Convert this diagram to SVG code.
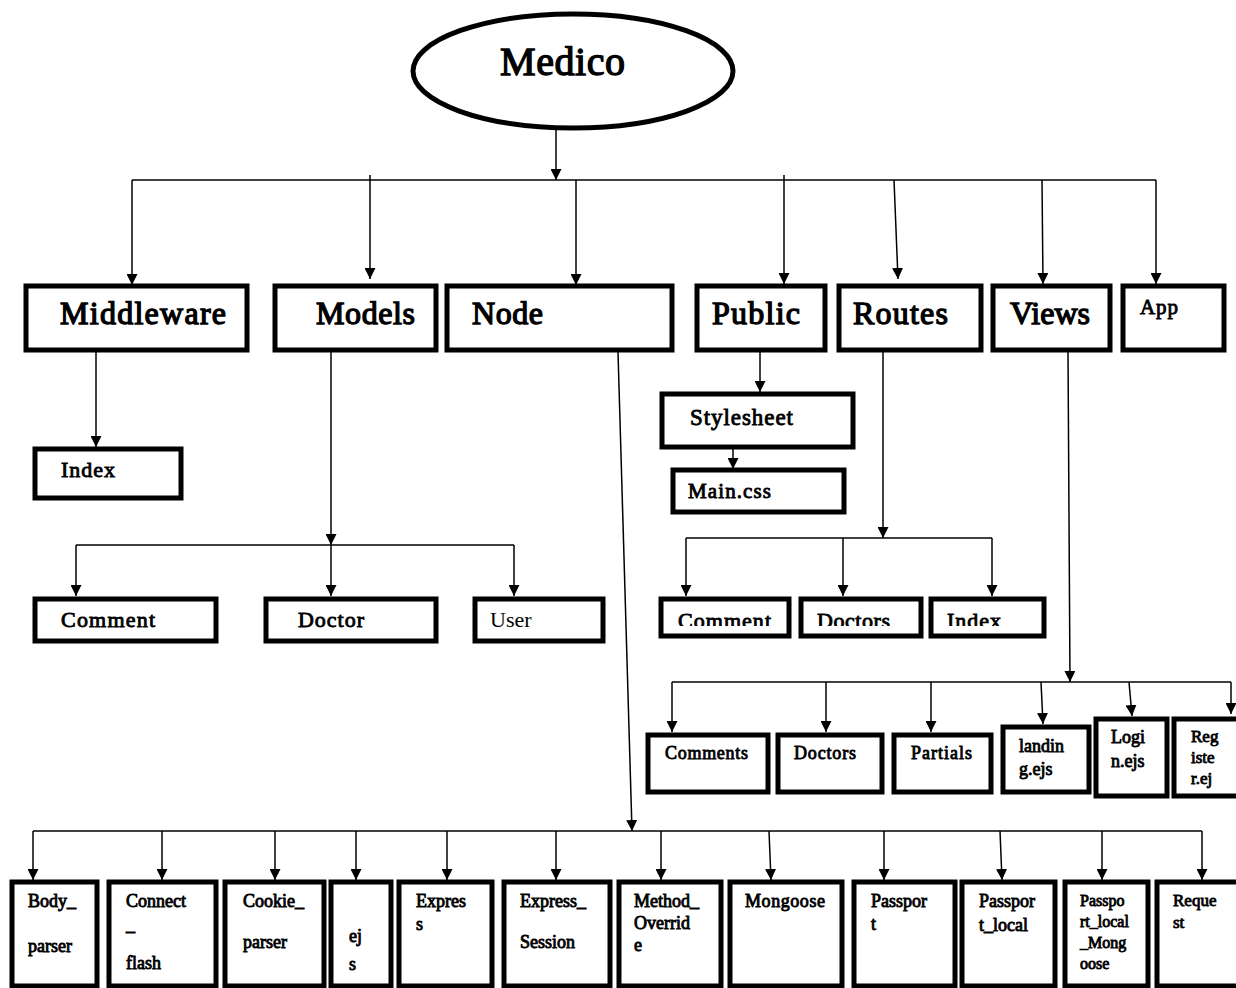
<svg xmlns="http://www.w3.org/2000/svg" width="1236" height="988" viewBox="0 0 1236 988" font-family="Liberation Serif, serif">
<style>
.b{fill:#fff;stroke:#000;stroke-width:5}
.t{fill:#000;stroke:#000;stroke-width:0.85}
.tl{fill:#000;stroke:#000;stroke-width:1.3}
.l{fill:none;stroke:#000;stroke-width:1.5}
.a{fill:none;stroke:#000;stroke-width:1.5;marker-end:url(#ah)}
</style>
<defs>
<marker id="ah" markerUnits="userSpaceOnUse" markerWidth="11" markerHeight="11" refX="10" refY="5" orient="auto" viewBox="0 0 10 10">
<path d="M0,0 L10,5 L0,10 z" fill="#000"/>
</marker>
<clipPath id="rc"><rect x="0" y="0" width="1236" height="626"/></clipPath>
</defs>
<rect width="1236" height="988" fill="#fff"/>

<g id="connectors">
<line class="a" x1="556" y1="130" x2="556" y2="180"/>
<line class="l" x1="132" y1="180" x2="1156" y2="180"/>
<line class="a" x1="132" y1="180" x2="132" y2="285"/>
<line class="a" x1="370" y1="175" x2="370" y2="279"/>
<line class="a" x1="576" y1="180" x2="576" y2="285"/>
<line class="a" x1="784" y1="175" x2="784" y2="284"/>
<line class="a" x1="894" y1="180" x2="898" y2="279"/>
<line class="a" x1="1042" y1="180" x2="1043" y2="284"/>
<line class="a" x1="1156" y1="180" x2="1156" y2="284"/>

<line class="a" x1="96" y1="352" x2="96" y2="447"/>

<line class="a" x1="331" y1="352" x2="331" y2="545"/>
<line class="l" x1="76" y1="545" x2="514" y2="545"/>
<line class="a" x1="76" y1="545" x2="76" y2="596"/>
<line class="a" x1="331" y1="545" x2="331" y2="596"/>
<line class="a" x1="514" y1="545" x2="514" y2="596"/>

<line class="a" x1="760" y1="352" x2="760" y2="392"/>
<line class="a" x1="733" y1="448" x2="733" y2="469"/>

<line class="a" x1="883" y1="352" x2="883" y2="538"/>
<line class="l" x1="686" y1="538" x2="992" y2="538"/>
<line class="a" x1="686" y1="538" x2="686" y2="596"/>
<line class="a" x1="843" y1="538" x2="843" y2="596"/>
<line class="a" x1="992" y1="538" x2="992" y2="596"/>

<line class="a" x1="1068" y1="352" x2="1070" y2="682"/>
<line class="l" x1="672" y1="682" x2="1231" y2="682"/>
<line class="a" x1="672" y1="682" x2="672" y2="732"/>
<line class="a" x1="826" y1="682" x2="826" y2="732"/>
<line class="a" x1="931" y1="682" x2="931" y2="732"/>
<line class="a" x1="1041" y1="682" x2="1043" y2="724"/>
<line class="a" x1="1129" y1="682" x2="1132" y2="716"/>
<line class="a" x1="1231" y1="682" x2="1231" y2="714"/>

<line class="a" x1="618" y1="352" x2="632" y2="831"/>
<line class="l" x1="33" y1="831" x2="1202" y2="831"/>
<line class="a" x1="33" y1="831" x2="33" y2="880"/>
<line class="a" x1="162" y1="831" x2="162" y2="880"/>
<line class="a" x1="275" y1="831" x2="275" y2="880"/>
<line class="a" x1="356" y1="831" x2="356" y2="880"/>
<line class="a" x1="447" y1="831" x2="447" y2="880"/>
<line class="a" x1="556" y1="831" x2="556" y2="880"/>
<line class="a" x1="661" y1="831" x2="661" y2="880"/>
<line class="a" x1="769" y1="831" x2="771" y2="880"/>
<line class="a" x1="884" y1="831" x2="884" y2="880"/>
<line class="a" x1="1000" y1="831" x2="1002" y2="880"/>
<line class="a" x1="1102" y1="831" x2="1102" y2="880"/>
<line class="a" x1="1202" y1="831" x2="1202" y2="880"/>
</g>

<g id="medico"><ellipse cx="573" cy="71" rx="160" ry="57" fill="#fff" stroke="#000" stroke-width="5"/><text class="tl" x="500" y="75" font-size="40" textLength="125">Medico</text></g>

<g id="middleware"><rect class="b" x="26" y="286" width="221" height="64"/><text class="tl" x="60" y="324" font-size="32" textLength="166">Middleware</text></g>
<g id="models"><rect class="b" x="275" y="286" width="161" height="64"/><text class="tl" x="316" y="324" font-size="32" textLength="99">Models</text></g>
<g id="node"><rect class="b" x="447" y="286" width="225" height="64"/><text class="tl" x="472" y="324" font-size="32" textLength="71">Node</text></g>
<g id="public"><rect class="b" x="697" y="286" width="128" height="64"/><text class="tl" x="712" y="324" font-size="32" textLength="88">Public</text></g>
<g id="routes"><rect class="b" x="839" y="286" width="142" height="64"/><text class="tl" x="853" y="324" font-size="32" textLength="95">Routes</text></g>
<g id="views"><rect class="b" x="993" y="286" width="117" height="64"/><text class="tl" x="1010" y="324" font-size="32" textLength="80">Views</text></g>
<g id="app"><rect class="b" x="1123" y="286" width="101" height="64"/><text class="t" x="1140" y="314" font-size="21" textLength="38">App</text></g>

<g id="mw-index"><rect class="b" x="35" y="449" width="146" height="49"/><text class="t" x="61" y="477" font-size="22" textLength="54">Index</text></g>

<g id="m-comment"><rect class="b" x="35" y="599" width="181" height="42"/><text class="t" x="61" y="627" font-size="22" textLength="94">Comment</text></g>
<g id="m-doctor"><rect class="b" x="266" y="599" width="170" height="42"/><text class="t" x="298" y="627" font-size="22" textLength="66">Doctor</text></g>
<g id="m-user"><rect class="b" x="475" y="599" width="128" height="42"/><text x="490" y="627" font-size="22" fill="#000">User</text></g>

<g id="stylesheet"><rect class="b" x="662" y="394" width="191" height="53"/><text class="t" x="690" y="425" font-size="23" textLength="103">Stylesheet</text></g>
<g id="maincss"><rect class="b" x="673" y="470" width="171" height="42"/><text class="t" x="688" y="498" font-size="21" textLength="83">Main.css</text></g>

<g id="r-comment"><rect class="b" x="661" y="599" width="128" height="37"/><text class="t" x="678" y="628" font-size="22" textLength="93" clip-path="url(#rc)">Comment</text></g>
<g id="r-doctors"><rect class="b" x="801" y="599" width="120" height="37"/><text class="t" x="817" y="628" font-size="22" textLength="73" clip-path="url(#rc)">Doctors</text></g>
<g id="r-index"><rect class="b" x="931" y="599" width="113" height="37"/><text class="t" x="947" y="628" font-size="22" textLength="54" clip-path="url(#rc)">Index</text></g>

<g id="v-comments"><rect class="b" x="648" y="735" width="120" height="57"/><text class="t" x="665" y="759" font-size="18" textLength="83">Comments</text></g>
<g id="v-doctors"><rect class="b" x="778" y="735" width="104" height="57"/><text class="t" x="794" y="759" font-size="18" textLength="62">Doctors</text></g>
<g id="v-partials"><rect class="b" x="894" y="735" width="97" height="57"/><text class="t" x="911" y="759" font-size="18" textLength="61">Partials</text></g>
<g id="v-landing"><rect class="b" x="1003" y="727" width="86" height="65"/><text class="t" x="1019" y="752" font-size="18">landin</text><text class="t" x="1019" y="775" font-size="18">g.ejs</text></g>
<g id="v-login"><rect class="b" x="1096" y="719" width="71" height="77"/><text class="t" x="1111" y="743" font-size="18">Logi</text><text class="t" x="1111" y="767" font-size="18">n.ejs</text></g>
<g id="v-register"><rect class="b" x="1174" y="719" width="66" height="77"/><text class="t" x="1191" y="742" font-size="17">Reg</text><text class="t" x="1191" y="763" font-size="17">iste</text><text class="t" x="1191" y="784" font-size="17">r.ej</text></g>

<g id="n-body"><rect class="b" x="12" y="882" width="85" height="104"/><text class="t" x="28" y="907" font-size="18">Body_</text><text class="t" x="28" y="952" font-size="18">parser</text></g>
<g id="n-connect"><rect class="b" x="109" y="882" width="107" height="104"/><text class="t" x="126" y="907" font-size="18">Connect</text><text class="t" x="126" y="931" font-size="18">_</text><text class="t" x="126" y="969" font-size="18">flash</text></g>
<g id="n-cookie"><rect class="b" x="225" y="882" width="99" height="104"/><text class="t" x="243" y="907" font-size="18">Cookie_</text><text class="t" x="243" y="948" font-size="18">parser</text></g>
<g id="n-ejs"><rect class="b" x="331" y="882" width="60" height="104"/><text class="t" x="349" y="942" font-size="18">ej</text><text class="t" x="349" y="970" font-size="18">s</text></g>
<g id="n-express"><rect class="b" x="399" y="882" width="93" height="104"/><text class="t" x="416" y="907" font-size="18">Expres</text><text class="t" x="416" y="930" font-size="18">s</text></g>
<g id="n-session"><rect class="b" x="504" y="882" width="106" height="104"/><text class="t" x="520" y="907" font-size="18">Express_</text><text class="t" x="520" y="948" font-size="18">Session</text></g>
<g id="n-method"><rect class="b" x="619" y="882" width="102" height="104"/><text class="t" x="634" y="907" font-size="18">Method_</text><text class="t" x="634" y="929" font-size="18">Overrid</text><text class="t" x="634" y="951" font-size="18">e</text></g>
<g id="n-mongoose"><rect class="b" x="730" y="882" width="112" height="104"/><text class="t" x="745" y="907" font-size="18" textLength="80">Mongoose</text></g>
<g id="n-passport"><rect class="b" x="854" y="882" width="101" height="104"/><text class="t" x="871" y="907" font-size="18">Passpor</text><text class="t" x="871" y="930" font-size="18">t</text></g>
<g id="n-plocal"><rect class="b" x="962" y="882" width="93" height="104"/><text class="t" x="979" y="907" font-size="18">Passpor</text><text class="t" x="979" y="931" font-size="18">t_local</text></g>
<g id="n-plm"><rect class="b" x="1065" y="882" width="83" height="104"/><text class="t" x="1080" y="906" font-size="16">Passpo</text><text class="t" x="1080" y="927" font-size="16">rt_local</text><text class="t" x="1080" y="948" font-size="16">_Mong</text><text class="t" x="1080" y="969" font-size="16">oose</text></g>
<g id="n-request"><rect class="b" x="1157" y="882" width="84" height="104"/><text class="t" x="1173" y="906" font-size="17">Reque</text><text class="t" x="1173" y="928" font-size="17">st</text></g>
</svg>
